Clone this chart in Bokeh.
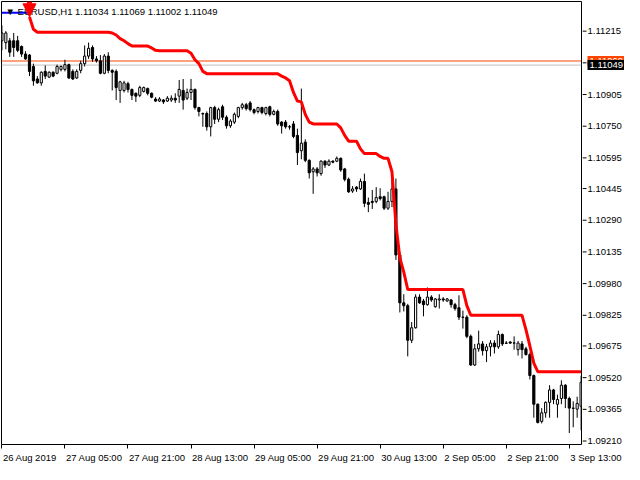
from math import nan
from bokeh.plotting import figure
from bokeh.layouts import column, row
from bokeh.models import (ColumnDataSource, Range1d, FixedTicker, Span, Label, Arrow, NormalHead)
from bokeh.core.properties import value
from bokeh.embed import file_html
from bokeh.resources import INLINE

# ---------------- data (EURUSD H1, 26 Aug 2019 13:00 .. 3 Sep 2019 16:00) ----------------
symbol = "EURUSD,H1"
last_ohlc = [1.11034, 1.11069, 1.11002, 1.11049]
bid_price = 1.11049
ask_price = 1.11069

open_ = [
    1.11168, 1.11159, 1.11168, 1.11168, 1.11168, 1.11140, 1.11103, 1.11098, 1.11042, 1.10981,
    1.10962, 1.11018, 1.10990, 1.11014, 1.11009, 1.11028, 1.11028, 1.11051, 1.11018, 1.10986,
    1.11023, 1.11056, 1.11093, 1.11135, 1.11079, 1.11070, 1.11009, 1.11093, 1.11023, 1.11018,
    1.10925, 1.10925, 1.10958, 1.10930, 1.10911, 1.10901, 1.10920, 1.10934, 1.10911, 1.10883,
    1.10873, 1.10878, 1.10873, 1.10878, 1.10887, 1.10897, 1.10925, 1.10887, 1.10915, 1.10930,
    1.10841, 1.10812, 1.10812, 1.10747, 1.10841, 1.10784, 1.10845, 1.10794, 1.10752, 1.10770,
    1.10798, 1.10841, 1.10855, 1.10864, 1.10831, 1.10822, 1.10841, 1.10812, 1.10845, 1.10808,
    1.10822, 1.10770, 1.10770, 1.10747, 1.10761, 1.10705, 1.10630, 1.10672, 1.10583, 1.10527,
    1.10541, 1.10518, 1.10579, 1.10560, 1.10579, 1.10579, 1.10593, 1.10541, 1.10490, 1.10433,
    1.10452, 1.10443, 1.10480, 1.10377, 1.10382, 1.10382, 1.10405, 1.10405, 1.10349, 1.10382,
    1.10443, 1.10120, 1.09886, 1.09872, 1.09703, 1.09764, 1.09914, 1.09895, 1.09877, 1.09914,
    1.09867, 1.09900, 1.09905, 1.09895, 1.09900, 1.09877, 1.09862, 1.09816, 1.09816, 1.09722,
    1.09582, 1.09661, 1.09685, 1.09652, 1.09671, 1.09689, 1.09671, 1.09731, 1.09689, 1.09694,
    1.09689, 1.09657, 1.09685, 1.09661, 1.09633, 1.09530, 1.09390, 1.09306, 1.09348, 1.09399,
    1.09460, 1.09390, 1.09418, 1.09483, 1.09418, 1.09371, 1.09366, 1.09380]

high = [
    1.11243, 1.11215, 1.11182, 1.11206, 1.11192, 1.11145, 1.11117, 1.11103, 1.11056, 1.10995,
    1.11018, 1.11047, 1.11018, 1.11018, 1.11051, 1.11047, 1.11075, 1.11056, 1.11028, 1.11028,
    1.11070, 1.11145, 1.11159, 1.11145, 1.11093, 1.11098, 1.11103, 1.11112, 1.11028, 1.11028,
    1.10972, 1.10972, 1.10967, 1.10934, 1.10915, 1.10948, 1.10944, 1.10939, 1.10915, 1.10892,
    1.10892, 1.10883, 1.10897, 1.10901, 1.10911, 1.10976, 1.10981, 1.10934, 1.10981, 1.10934,
    1.10845, 1.10817, 1.10822, 1.10845, 1.10850, 1.10841, 1.10855, 1.10803, 1.10784, 1.10817,
    1.10845, 1.10864, 1.10864, 1.10873, 1.10836, 1.10845, 1.10845, 1.10845, 1.10850, 1.10831,
    1.10831, 1.10775, 1.10780, 1.10756, 1.10775, 1.10738, 1.10934, 1.10686, 1.10588, 1.10550,
    1.10550, 1.10583, 1.10583, 1.10588, 1.10583, 1.10602, 1.10597, 1.10546, 1.10499, 1.10457,
    1.10457, 1.10494, 1.10518, 1.10401, 1.10438, 1.10452, 1.10447, 1.10410, 1.10429, 1.10490,
    1.10494, 1.10134, 1.09928, 1.09881, 1.09792, 1.09928, 1.09928, 1.09905, 1.09961, 1.09923,
    1.09909, 1.09928, 1.09914, 1.09909, 1.09905, 1.09886, 1.09923, 1.09848, 1.09825, 1.09731,
    1.09685, 1.09750, 1.09699, 1.09685, 1.09703, 1.09703, 1.09750, 1.09736, 1.09699, 1.09699,
    1.09722, 1.09699, 1.09699, 1.09671, 1.09642, 1.09535, 1.09394, 1.09371, 1.09404, 1.09483,
    1.09465, 1.09437, 1.09507, 1.09488, 1.09427, 1.09404, 1.09427, 1.09530]

low = [
    1.11121, 1.11126, 1.11089, 1.11089, 1.11112, 1.11089, 1.11075, 1.10995, 1.10948, 1.10958,
    1.10948, 1.10981, 1.10986, 1.10990, 1.11004, 1.11018, 1.11018, 1.10981, 1.10976, 1.10981,
    1.11009, 1.11042, 1.11079, 1.11065, 1.11061, 1.11004, 1.11004, 1.11009, 1.10925, 1.10878,
    1.10864, 1.10915, 1.10915, 1.10878, 1.10869, 1.10892, 1.10915, 1.10901, 1.10887, 1.10869,
    1.10869, 1.10859, 1.10869, 1.10869, 1.10864, 1.10864, 1.10831, 1.10878, 1.10878, 1.10831,
    1.10798, 1.10747, 1.10728, 1.10700, 1.10761, 1.10770, 1.10780, 1.10738, 1.10742, 1.10761,
    1.10789, 1.10831, 1.10827, 1.10822, 1.10808, 1.10812, 1.10808, 1.10803, 1.10798, 1.10803,
    1.10752, 1.10714, 1.10738, 1.10733, 1.10691, 1.10560, 1.10588, 1.10574, 1.10494, 1.10419,
    1.10504, 1.10508, 1.10546, 1.10555, 1.10569, 1.10574, 1.10527, 1.10480, 1.10424, 1.10424,
    1.10429, 1.10438, 1.10354, 1.10330, 1.10345, 1.10373, 1.10387, 1.10340, 1.10340, 1.10354,
    1.10096, 1.09839, 1.09844, 1.09624, 1.09689, 1.09760, 1.09881, 1.09820, 1.09872, 1.09891,
    1.09862, 1.09858, 1.09891, 1.09891, 1.09862, 1.09848, 1.09802, 1.09760, 1.09713, 1.09577,
    1.09577, 1.09647, 1.09628, 1.09596, 1.09624, 1.09638, 1.09661, 1.09675, 1.09685, 1.09685,
    1.09657, 1.09628, 1.09614, 1.09628, 1.09511, 1.09324, 1.09296, 1.09296, 1.09324, 1.09324,
    1.09390, 1.09324, 1.09390, 1.09371, 1.09249, 1.09277, 1.09324, 1.09263]

close = [
    1.11206, 1.11206, 1.11112, 1.11135, 1.11121, 1.11103, 1.11079, 1.11018, 1.10972, 1.10962,
    1.11014, 1.10995, 1.11014, 1.10995, 1.11042, 1.11042, 1.11051, 1.10986, 1.10981, 1.11018,
    1.11056, 1.11093, 1.11131, 1.11079, 1.11070, 1.11009, 1.11093, 1.11023, 1.11014, 1.10939,
    1.10967, 1.10962, 1.10930, 1.10901, 1.10897, 1.10939, 1.10939, 1.10911, 1.10892, 1.10873,
    1.10883, 1.10869, 1.10887, 1.10887, 1.10878, 1.10930, 1.10878, 1.10915, 1.10930, 1.10841,
    1.10822, 1.10810, 1.10747, 1.10841, 1.10784, 1.10831, 1.10794, 1.10752, 1.10775, 1.10808,
    1.10841, 1.10855, 1.10836, 1.10831, 1.10817, 1.10841, 1.10817, 1.10841, 1.10808, 1.10822,
    1.10761, 1.10752, 1.10747, 1.10746, 1.10700, 1.10621, 1.10667, 1.10583, 1.10522, 1.10541,
    1.10522, 1.10579, 1.10560, 1.10579, 1.10574, 1.10593, 1.10536, 1.10490, 1.10429, 1.10443,
    1.10443, 1.10480, 1.10373, 1.10368, 1.10377, 1.10401, 1.10396, 1.10349, 1.10382, 1.10443,
    1.10120, 1.09886, 1.09872, 1.09703, 1.09764, 1.09914, 1.09886, 1.09877, 1.09914, 1.09900,
    1.09905, 1.09905, 1.09900, 1.09905, 1.09877, 1.09858, 1.09816, 1.09815, 1.09722, 1.09582,
    1.09661, 1.09685, 1.09652, 1.09671, 1.09689, 1.09671, 1.09731, 1.09685, 1.09688, 1.09689,
    1.09690, 1.09689, 1.09657, 1.09633, 1.09530, 1.09390, 1.09301, 1.09348, 1.09399, 1.09460,
    1.09413, 1.09413, 1.09483, 1.09418, 1.09371, 1.09370, 1.09394, 1.09497]

# trailing-stop indicator: blue (before the signal) and red (after the sell signal)
stop_up = [1.11305] * 8 + [nan] * 140
stop_down = ([nan] * 7 + [1.11285, 1.11224] + [1.11210] * 19
             + [1.11206, 1.11196, 1.11178, 1.11168, 1.11154] + [1.11142] * 5
             + [1.11133, 1.11121] + [1.11119] * 8
             + [1.11107, 1.11075, 1.11056, 1.11018] + [1.11007] * 19
             + [1.10995, 1.10986, 1.10972, 1.10915, 1.10873, 1.10869, 1.10808, 1.10770]
             + [1.10761] * 7 + [1.10742, 1.10705] + [1.10677] * 3 + [1.10639]
             + [1.10616] * 4 + [1.10602] + [1.10593] * 2
             + [1.10527, 1.10270, 1.10106, 1.10036] + [1.09951] * 15 + [1.09872]
             + [1.09825] * 14 + [1.09755, 1.09675, 1.09591] + [1.09549] * 12)
signal_bar = 7

date_ticks = [0, 16, 32, 48, 64, 80, 96, 112, 128, 144]
date_labels = ["26 Aug 2019", "27 Aug 05:00", "27 Aug 21:00", "28 Aug 13:00", "29 Aug 05:00",
               "29 Aug 21:00", "30 Aug 13:00", "2 Sep 05:00", "2 Sep 21:00", "3 Sep 13:00"]
price_ticks = [1.11215, 1.11060, 1.10905, 1.10750, 1.10595, 1.10445, 1.10290,
               1.10135, 1.09980, 1.09825, 1.09675, 1.09520, 1.09365, 1.09210]
hidden_tick = 1.11060          # its label lies under the bid/ask price tags
label_ticks = [t for t in price_ticks if t != hidden_tick]
price_labels = [f"{v:.5f}" for v in label_ticks]

# ---------------- layout constants ----------------
FONT = "Liberation Sans"
FS = "9.5px"
MAIN_W, SIDE_W, H_TOP, STRIP_H = 582, 42, 450, 14
BORDER_L, BORDER_R, BORDER_T, BORDER_B = 1, 1, 1, 6
x_lo, x_hi = -0.1, len(close) - 0.9
y_lo, y_hi = 1.09193, 1.11360


def tick_axis(fig, minor):
    ax = fig.xaxis[0]
    ax.ticker = FixedTicker(ticks=[], minor_ticks=minor)
    ax.axis_line_color = None
    ax.major_tick_line_color = None
    ax.minor_tick_in = 0
    ax.minor_tick_out = 4
    ax.minor_tick_line_color = "black"
    ax.major_label_standoff = 0


def base(fig):
    fig.grid.visible = False
    fig.background_fill_color = "white"
    fig.border_fill_color = "white"


# ---------------- main chart ----------------
bar = list(range(len(close)))
src = ColumnDataSource(dict(
    bar=bar, high=high, low=low,
    top=[max(o, c) for o, c in zip(open_, close)],
    bottom=[min(o, c) for o, c in zip(open_, close)],
    fill=["white" if c >= o else "black" for o, c in zip(open_, close)],
))

yr = Range1d(y_lo, y_hi)
p = figure(width=MAIN_W, height=H_TOP, output_backend="svg", toolbar_location=None,
           x_range=Range1d(x_lo, x_hi), y_range=yr, y_axis_location=None,
           min_border_left=BORDER_L, min_border_right=BORDER_R,
           min_border_top=BORDER_T, min_border_bottom=BORDER_B)
base(p)
p.outline_line_color = "black"
p.outline_line_alpha = 1
p.outline_line_width = 1
tick_axis(p, date_ticks)

p.add_layout(Span(location=ask_price, dimension="width", line_color="#FF4500",
                  line_width=1, level="underlay"))
p.add_layout(Span(location=bid_price, dimension="width", line_color="#C0C0C0",
                  line_width=1, level="underlay"))

p.segment(x0="bar", y0="low", x1="bar", y1="high", source=src, line_color="black", line_width=1)
p.vbar(x="bar", width=0.55, top="top", bottom="bottom", fill_color="fill",
       line_color="black", line_width=1, source=src)

p.line(bar, stop_up, line_color="#0000FF", line_width=2)
p.line(bar, stop_down, line_color="#FF0000", line_width=3)

header = "\u25BC " + symbol + "  " + " ".join(f"{v:.5f}" for v in last_ohlc)
p.add_layout(Label(x=x_lo, y=y_hi, x_offset=4, y_offset=-4, text=header, text_align="left",
                   text_baseline="top", text_font=FONT, text_font_size=FS, text_color="black"))
p.add_layout(Arrow(end=NormalHead(size=13, fill_color="#FF0000", line_color="#FF0000"),
                   x_start=signal_bar, y_start=y_hi, x_end=signal_bar,
                   y_end=stop_down[signal_bar], line_color="#FF0000", line_width=5))

# ---------------- price scale (right) ----------------
s = figure(width=SIDE_W, height=H_TOP, output_backend="svg", toolbar_location=None,
           x_range=Range1d(0, SIDE_W), y_range=yr, y_axis_location=None,
           min_border_left=0, min_border_right=0,
           min_border_top=BORDER_T, min_border_bottom=BORDER_B)
base(s)
s.outline_line_color = None
tick_axis(s, [])
s.segment(x0=[0] * len(price_ticks), y0=price_ticks, x1=[4] * len(price_ticks), y1=price_ticks,
          line_color="black", line_width=1)
s.text(x=[5] * len(label_ticks), y=label_ticks, text=price_labels, text_align="left",
       text_baseline="middle", text_font=value(FONT), text_font_size=value(FS),
       text_color="black")
s.add_layout(Label(x=0, y=ask_price, x_offset=5, text=f"{ask_price:.5f}", text_align="left",
                   text_baseline="middle", text_font=FONT, text_font_size=FS,
                   text_color="white", background_fill_color="#FF4500", padding=2))
s.add_layout(Label(x=0, y=bid_price, x_offset=5, text=f"{bid_price:.5f}", text_align="left",
                   text_baseline="middle", text_font=FONT, text_font_size=FS,
                   text_color="white", background_fill_color="black", padding=2))

# ---------------- date scale (bottom) ----------------
frame_w = MAIN_W - BORDER_L - BORDER_R
u = (x_hi - x_lo) / frame_w
strip_x = Range1d(x_lo - BORDER_L * u, x_hi + (BORDER_R + SIDE_W) * u)
d = figure(width=MAIN_W + SIDE_W, height=STRIP_H, output_backend="svg", toolbar_location=None,
           x_range=strip_x, y_range=Range1d(0, 1), x_axis_location=None, y_axis_location=None,
           min_border_left=0, min_border_right=0, min_border_top=0, min_border_bottom=0)
base(d)
d.outline_line_color = None
d.text(x=date_ticks, y=[0.5] * len(date_ticks), text=date_labels, x_offset=1,
       text_align="left", text_baseline="middle", text_font=value(FONT),
       text_font_size=value(FS), text_color="black")

layout = column(row(p, s, spacing=0), d, spacing=0)
open("out.html", "w").write(file_html(layout, INLINE))
